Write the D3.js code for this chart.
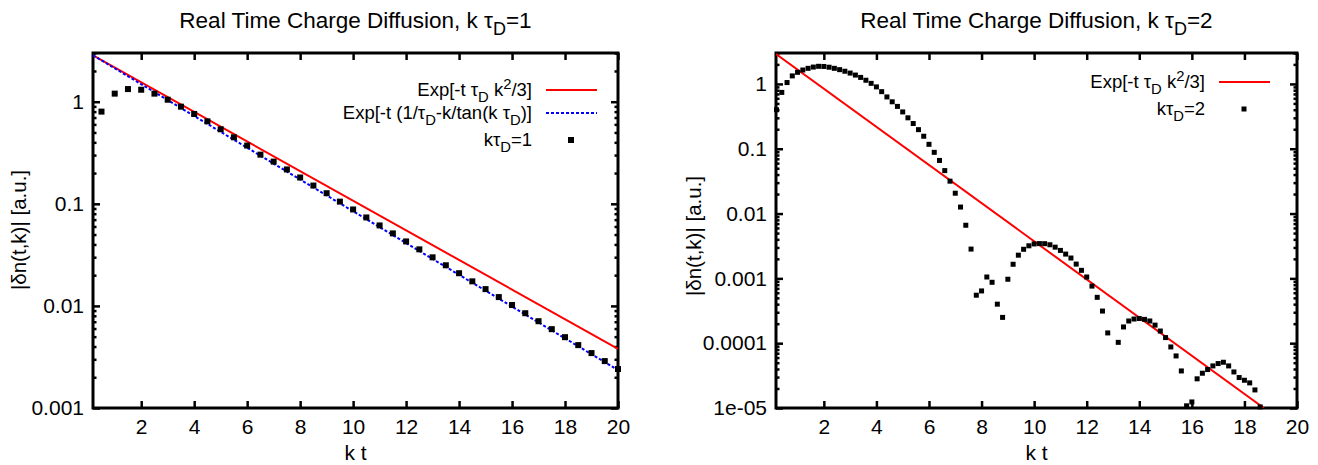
<!DOCTYPE html>
<html>
<head>
<meta charset="utf-8">
<script src="https://cdn.jsdelivr.net/npm/d3@7"></script>
<style>
  body { margin: 0; background: #fff; }
  text { font-family: "Liberation Sans", Arial, sans-serif; fill: #000; }
</style>
</head>
<body>
<script>
// k tau_D = 1 : simulated points, every 0.5 in k t
var tLeft = [0.5, 1, 1.5, 2, 2.5, 3, 3.5, 4, 4.5, 5, 5.5, 6, 6.5, 7, 7.5, 8, 8.5, 9, 9.5, 10,
  10.5, 11, 11.5, 12, 12.5, 13, 13.5, 14, 14.5, 15, 15.5, 16, 16.5, 17, 17.5, 18, 18.5, 19, 19.5, 20];
var nLeft = [0.80, 1.20, 1.33, 1.31, 1.20, 1.046, 0.894, 0.758, 0.642, 0.537, 0.448, 0.372, 0.303, 0.259,
  0.217, 0.181, 0.151, 0.127, 0.105, 0.088, 0.0735, 0.0614, 0.0513, 0.0428, 0.0358, 0.0299, 0.0250,
  0.0209, 0.0174, 0.0146, 0.0122, 0.0102, 0.00848, 0.00708, 0.00592, 0.00494, 0.00413, 0.00345,
  0.00288, 0.00241];

// k tau_D = 2 : simulated points, every 0.2 in k t (13.0 falls below the range)
var tRight = [0.2, 0.4, 0.6, 0.8, 1.0, 1.2, 1.4, 1.6, 1.8, 2.0, 2.2, 2.4, 2.6, 2.8, 3.0, 3.2, 3.4, 3.6,
  3.8, 4.0, 4.2, 4.4, 4.6, 4.8, 5.0, 5.2, 5.4, 5.6, 5.8, 6.0, 6.2, 6.4, 6.6, 6.8, 7.0, 7.2, 7.4, 7.6,
  7.8, 8.0, 8.2, 8.4, 8.6, 8.8, 9.0, 9.2, 9.4, 9.6, 9.8, 10.0, 10.2, 10.4, 10.6, 10.8, 11.0, 11.2,
  11.4, 11.6, 11.8, 12.0, 12.2, 12.4, 12.6, 12.8, 13.2, 13.4, 13.6, 13.8, 14.0, 14.2, 14.4, 14.6,
  14.8, 15.0, 15.2, 15.4, 15.6, 15.8, 16.0, 16.2, 16.4, 16.6, 16.8, 17.0, 17.2, 17.4, 17.6, 17.8,
  18.0, 18.2, 18.4, 18.6];
var nRight = [0.40, 0.74, 1.05, 1.33, 1.51, 1.64, 1.74, 1.82, 1.87, 1.86, 1.81, 1.74, 1.66, 1.57, 1.47,
  1.37, 1.26, 1.14, 1.02, 0.90, 0.76, 0.63, 0.53, 0.45, 0.37, 0.30, 0.245, 0.197, 0.156, 0.117, 0.088,
  0.066, 0.046, 0.0316, 0.0206, 0.0126, 0.0066, 0.00283, 0.00055, 0.00064, 0.00105, 0.00087, 0.0004,
  0.00025, 0.00097, 0.00165, 0.00228, 0.00281, 0.00318, 0.0034, 0.00344, 0.00343, 0.0033, 0.00303,
  0.0027, 0.00237, 0.00206, 0.00166, 0.00133, 0.00105, 0.00076, 0.00051, 0.000313, 0.000144,
  0.000103, 0.000178, 0.00022, 0.000236, 0.00024, 0.000233, 0.00022, 0.00019, 0.000154, 0.000122,
  0.0000875, 0.0000636, 0.0000373, 0.0000108, 0.0000124, 0.0000282, 0.0000344, 0.0000392, 0.0000446,
  0.0000485, 0.0000508, 0.0000446, 0.000036, 0.0000295, 0.0000268, 0.0000244, 0.000019, 0.0000104];

// straight lines on the log axis, end points
var diffLeftT = [0.18, 20], diffLeftN = [2.85, 0.0038];
var tanLeftT = [0.18, 20], tanLeftN = [2.85, 0.00235];
var diffRightT = [0.18, 18.74], diffRightN = [2.9, 0.00001];

var xRange = [0.18, 20];
var xTicks = [2, 4, 6, 8, 10, 12, 14, 16, 18, 20];
var yTicksLeft = [1, 0.1, 0.01, 0.001];
var yLabelsLeft = ['1', '0.1', '0.01', '0.001'];
var yTicksRight = [1, 0.1, 0.01, 0.001, 0.0001, 0.00001];
var yLabelsRight = ['1', '0.1', '0.01', '0.001', '0.0001', '1e-05'];

var TOP = 53, BOTTOM = 408;

var svg = d3.select('body').append('svg')
  .attr('width', 1318)
  .attr('height', 465);

// text with gnuplot-like sub/superscripts: parts = [[str, 'n'|'sub'|'sup'], ...]
function rich(sel, parts, size) {
  var off = 0;
  parts.forEach(function (p) {
    var target = p[1] === 'sub' ? size * 0.3 : p[1] === 'sup' ? -size * 0.4 : 0;
    sel.append('tspan')
      .attr('dy', target - off)
      .style('font-size', p[1] === 'n' ? size + 'px' : (size * 0.8) + 'px')
      .text(p[0]);
    off = target;
  });
  return sel;
}

function panel(opt) {
  var g = svg.append('g');
  var x = d3.scaleLinear().domain(xRange).range([opt.left, opt.right]);
  var y = d3.scaleLog().domain([opt.ymin, 3]).range([BOTTOM, TOP]);

  g.append('clipPath').attr('id', opt.id)
    .append('rect')
      .attr('x', opt.left).attr('y', TOP)
      .attr('width', opt.right - opt.left).attr('height', BOTTOM - TOP);

  // major and minor ticks on all four sides, pointing inwards
  var minor = y.ticks().filter(function (v) { return opt.yTicks.indexOf(v) < 0; });
  var axes = [
    d3.axisBottom(x).tickValues(xTicks).tickFormat(d3.format('d')).tickPadding(11),
    d3.axisTop(x).tickValues(xTicks).tickFormat(''),
    d3.axisLeft(y).tickValues(opt.yTicks).tickFormat(function (d, i) { return opt.yLabels[i]; }).tickPadding(9),
    d3.axisRight(y).tickValues(opt.yTicks).tickFormat('')
  ];
  var pos = ['translate(0,' + BOTTOM + ')', 'translate(0,' + TOP + ')',
    'translate(' + opt.left + ',0)', 'translate(' + opt.right + ',0)'];
  axes.forEach(function (a, i) {
    a.tickSizeInner(-7).tickSizeOuter(0);
    var ax = g.append('g').attr('transform', pos[i]).call(a);
    ax.select('.domain').remove();
    ax.selectAll('line').attr('stroke-width', 2.5);
    ax.selectAll('text').style('font-size', '21px').style('font-family', '"Liberation Sans", Arial, sans-serif');
  });
  [d3.axisLeft(y), d3.axisRight(y)].forEach(function (a, i) {
    var ax = g.append('g').attr('transform', pos[i + 2])
      .call(a.tickValues(minor).tickFormat('').tickSizeInner(-3.5).tickSizeOuter(0));
    ax.select('.domain').remove();
    ax.selectAll('line').attr('stroke-width', 2.5);
  });

  g.append('rect')
    .attr('x', opt.left).attr('y', TOP)
    .attr('width', opt.right - opt.left).attr('height', BOTTOM - TOP)
    .attr('fill', 'none').attr('stroke', '#000').attr('stroke-width', 3);

  var line = d3.line()
    .x(function (d) { return x(d[0]); })
    .y(function (d) { return y(d[1]); });

  opt.lines.forEach(function (l) {
    g.append('path')
      .datum(d3.zip(l.t, l.n))
      .attr('clip-path', 'url(#' + opt.id + ')')
      .attr('d', line)
      .attr('fill', 'none')
      .attr('stroke', l.color)
      .attr('stroke-width', 2)
      .attr('stroke-dasharray', l.dash || null);
  });

  var S = opt.square;
  g.selectAll('rect.pt')
    .data(d3.zip(opt.t, opt.n))
    .enter().append('rect')
      .attr('class', 'pt')
      .attr('x', function (d) { return x(d[0]) - S / 2; })
      .attr('y', function (d) { return y(d[1]) - S / 2; })
      .attr('width', S).attr('height', S)
      .attr('fill', '#000');

  // legend
  opt.legend.forEach(function (e) {
    rich(g.append('text')
      .attr('x', opt.legX).attr('y', e.y + 6)
      .attr('text-anchor', 'end'), e.parts, 18.5);
    if (e.color) {
      g.append('line')
        .attr('x1', opt.legX + 14).attr('x2', opt.legX + 65)
        .attr('y1', e.y).attr('y2', e.y)
        .attr('stroke', e.color).attr('stroke-width', 2)
        .attr('stroke-dasharray', e.dash || null);
    } else {
      g.append('rect')
        .attr('x', opt.legX + 39 - S / 2).attr('y', e.y - S / 2)
        .attr('width', S).attr('height', S).attr('fill', '#000');
    }
  });

  var cx = (opt.left + opt.right) / 2;
  rich(g.append('text').attr('x', cx).attr('y', 28).attr('text-anchor', 'middle'),
    [['Real Time Charge Diffusion, k \u03c4', 'n'], ['D', 'sub'], [opt.ktau, 'n']], 22.5);
  g.append('text')
    .attr('x', cx).attr('y', 460)
    .attr('text-anchor', 'middle')
    .style('font-size', '21px')
    .text('k t');
  g.append('text')
    .attr('transform', 'translate(' + opt.ylabX + ',' + opt.ylabY + ') rotate(-90)')
    .attr('text-anchor', 'middle')
    .style('font-size', '20.5px')
    .text('|\u03b4n(t,k)| [a.u.]');
}

panel({
  id: 'clipL', left: 93, right: 618, ymin: 0.001,
  yTicks: yTicksLeft, yLabels: yLabelsLeft,
  t: tLeft, n: nLeft, square: 6,
  lines: [
    { t: diffLeftT, n: diffLeftN, color: '#ff0000' },
    { t: tanLeftT, n: tanLeftN, color: '#0000ff', dash: '3,2' }
  ],
  legX: 532,
  legend: [
    { y: 90, color: '#ff0000', parts: [['Exp[-t \u03c4', 'n'], ['D', 'sub'], [' k', 'n'], ['2', 'sup'], ['/3]', 'n']] },
    { y: 113, color: '#0000ff', dash: '3,2', parts: [['Exp[-t (1/\u03c4', 'n'], ['D', 'sub'], ['-k/tan(k \u03c4', 'n'], ['D', 'sub'], [')]', 'n']] },
    { y: 140, parts: [['k\u03c4', 'n'], ['D', 'sub'], ['=1', 'n']] }
  ],
  ktau: '=1', ylabX: 26, ylabY: 230
});

panel({
  id: 'clipR', left: 776, right: 1297, ymin: 0.00001,
  yTicks: yTicksRight, yLabels: yLabelsRight,
  t: tRight, n: nRight, square: 5,
  lines: [
    { t: diffRightT, n: diffRightN, color: '#ff0000' }
  ],
  legX: 1205,
  legend: [
    { y: 82, color: '#ff0000', parts: [['Exp[-t \u03c4', 'n'], ['D', 'sub'], [' k', 'n'], ['2', 'sup'], ['/3]', 'n']] },
    { y: 109, parts: [['k\u03c4', 'n'], ['D', 'sub'], ['=2', 'n']] }
  ],
  ktau: '=2', ylabX: 701, ylabY: 236
});
</script>
</body>
</html>
